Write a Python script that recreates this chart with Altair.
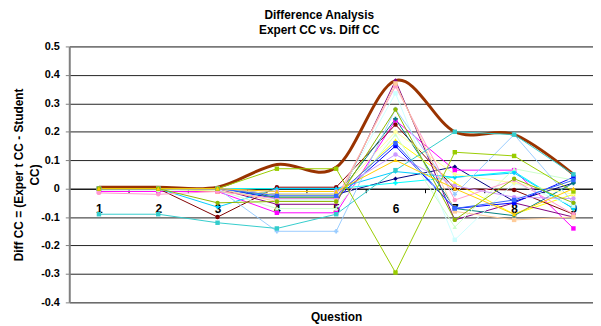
import altair as alt
import pandas as pd

questions = [1, 2, 3, 4, 5, 6, 7, 8, 9]

series_names = ["S1", "S2", "S3", "S4", "S5", "S6", "S7", "S8", "S9", "S10", "S11",
                "S12", "S13", "S14", "S15", "S16", "S17", "S18", "S19", "S20", "S21"]
series_colors = ["#000080", "#FF00FF", "#FFFF00", "#00FFFF", "#800080", "#800000", "#008080",
                 "#0000FF", "#00CCFF", "#CCFFFF", "#CCFFCC", "#FFFF99", "#99CCFF", "#FF99CC",
                 "#CC99FF", "#FFCC99", "#3366FF", "#33CCCC", "#99CC00", "#8DB800", "#FFCC00"]
series_shapes = ["diamond", "square", "triangle-up", "cross", "diamond", "circle", "cross",
                 "square", "diamond", "square", "triangle-up", "cross", "cross", "circle",
                 "circle", "square", "square", "square", "square", "circle", "triangle-up"]

s1 = [0.0, 0.0, 0.0, -0.02, -0.02, 0.035, 0.077, -0.045, 0.02]
s2 = [-0.01, -0.01, -0.01, -0.085, -0.085, 0.24, 0.065, 0.065, -0.14]
s3 = [0.0, 0.0, -0.01, -0.03, -0.03, 0.17, 0.02, -0.09, -0.02]
s4 = [0.0, 0.0, 0.0, 0.0, 0.0, 0.02, 0.04, 0.06, -0.07]
s5 = [0.0, 0.0, 0.0, -0.055, -0.055, 0.38, -0.11, -0.05, -0.1]
s6 = [0.0, 0.0, -0.1, 0.005, 0.005, 0.225, 0.0, -0.005, -0.09]
s7 = [0.0, 0.0, 0.0, -0.03, -0.03, 0.245, -0.07, -0.095, 0.02]
s8 = [0.0, 0.0, 0.0, -0.035, -0.035, 0.15, -0.07, -0.05, 0.04]
s9 = [0.0, 0.0, -0.065, 0.0, 0.0, 0.06, 0.04, 0.055, -0.07]
s10 = [0.0, 0.0, 0.0, -0.04, -0.04, 0.335, -0.18, 0.02, -0.06]
s11 = [-0.005, -0.005, -0.005, -0.07, -0.07, 0.19, -0.135, 0.07, 0.03]
s12 = [0.0, 0.0, 0.0, -0.02, -0.02, 0.2, 0.05, 0.02, -0.02]
s13 = [0.0, 0.0, 0.0, -0.15, -0.15, 0.28, -0.02, 0.19, -0.05]
s14 = [-0.015, -0.02, -0.01, -0.035, -0.035, 0.36, -0.04, 0.03, -0.09]
s15 = [0.0, 0.0, 0.0, -0.01, -0.01, 0.12, 0.01, -0.03, -0.035]
s16 = [0.0, 0.0, 0.0, -0.045, -0.045, 0.37, -0.08, -0.11, -0.1]
s17 = [0.0, 0.0, 0.0, -0.025, -0.025, 0.16, -0.07, -0.04, 0.03]
s18 = [-0.09, -0.09, -0.12, -0.14, -0.09, 0.065, 0.2, 0.19, 0.05]
s19 = [0.0, 0.0, 0.0, 0.07, 0.07, -0.295, 0.128, 0.115, -0.01]
s20 = [0.0, 0.0, -0.05, -0.045, -0.045, 0.278, -0.11, 0.035, -0.05]
s21 = [0.0, 0.0, 0.0, -0.01, -0.01, 0.1, 0.0, -0.09, 0.0]
series_values = [s1, s2, s3, s4, s5, s6, s7, s8, s9, s10, s11, s12, s13, s14, s15, s16,
                 s17, s18, s19, s20, s21]

envelope = [0.005, 0.005, 0.005, 0.085, 0.075, 0.38, 0.2, 0.19, 0.05]

y_ticks = [-0.4, -0.3, -0.2, -0.1, 0.0, 0.1, 0.2, 0.3, 0.4, 0.5]

rows = []
for name, vals in zip(series_names, series_values):
    for q, v in zip(questions, vals):
        rows.append({"series": name, "q": q, "v": v})
df = pd.DataFrame(rows)
env_df = pd.DataFrame({"q": questions, "v": envelope})

FONT = "Liberation Sans"

x_enc = alt.X(
    "q:Q",
    scale=alt.Scale(domain=[0.5, 9.33], nice=False, zero=False),
    axis=alt.Axis(
        orient="bottom", offset=-115, values=questions, grid=False,
        domainColor="#000000", domainWidth=1,
        tickColor="#000000", tickSize=4, tickOffset=30, labelOffset=-30,
        labelFont=FONT, labelFontSize=12, labelFontWeight="bold", labelColor="#000000",
        labelPadding=11, labelFlush=False, labelOverlap=False,
        title="Question", titleFont=FONT, titleFontSize=12, titleFontWeight="bold",
        titleColor="#000000", titleX=270, titleY=129, titleAlign="center",
        titleBaseline="middle", titleAnchor="middle",
    ),
)
y_enc = alt.Y(
    "v:Q",
    scale=alt.Scale(domain=[-0.4, 0.5], nice=False, zero=False),
    axis=alt.Axis(
        values=y_ticks, grid=True, gridColor="#222222", gridWidth=1,
        domainColor="#808080", domainWidth=2, tickColor="#808080", tickSize=4,
        labelFont=FONT, labelFontSize=11, labelFontWeight="bold", labelColor="#000000",
        labelPadding=6,
        labelExpr="datum.value == 0 ? '0' : toString(round(datum.value * 10) / 10)",
        title=["Diff CC = (Exper t CC - Student", "CC)"], titleFont=FONT,
        titleFontSize=12, titleFontWeight="bold", titleColor="#000000",
        titleX=-51, titleY=129.5, titleAngle=-90, titleAlign="center",
        titleBaseline="middle", titleLineHeight=16,
    ),
)

color_enc = alt.Color("series:N", scale=alt.Scale(domain=series_names, range=series_colors),
                      legend=None)
shape_enc = alt.Shape("series:N", scale=alt.Scale(domain=series_names, range=series_shapes),
                      legend=None)

env_line = alt.Chart(env_df).mark_line(
    interpolate="cardinal", strokeWidth=3, color="#993300"
).encode(x=x_enc, y=y_enc)

lines = alt.Chart(df).mark_line(strokeWidth=1).encode(
    x=x_enc, y=y_enc, color=color_enc, detail="series:N"
)
points = alt.Chart(df).mark_point(filled=True, size=20, opacity=1).encode(
    x=x_enc, y=y_enc, color=color_enc, shape=shape_enc
)

chart = alt.layer(env_line, lines, points).properties(
    width=530,
    height=259,
    title=alt.TitleParams(
        ["Difference Analysis", "Expert CC vs. Diff CC"], font=FONT, fontSize=12,
        fontWeight="bold", color="#000000", anchor="middle", frame="group", dx=-12,
        lineHeight=15, offset=4,
    ),
    autosize=alt.AutoSizeParams(type="none"),
    padding={"left": 62, "top": 37, "right": 0, "bottom": 22},
).configure_view(stroke=None).configure(background="#FFFFFF")

chart.save("out.html", embed_options={"renderer": "svg", "actions": False})
